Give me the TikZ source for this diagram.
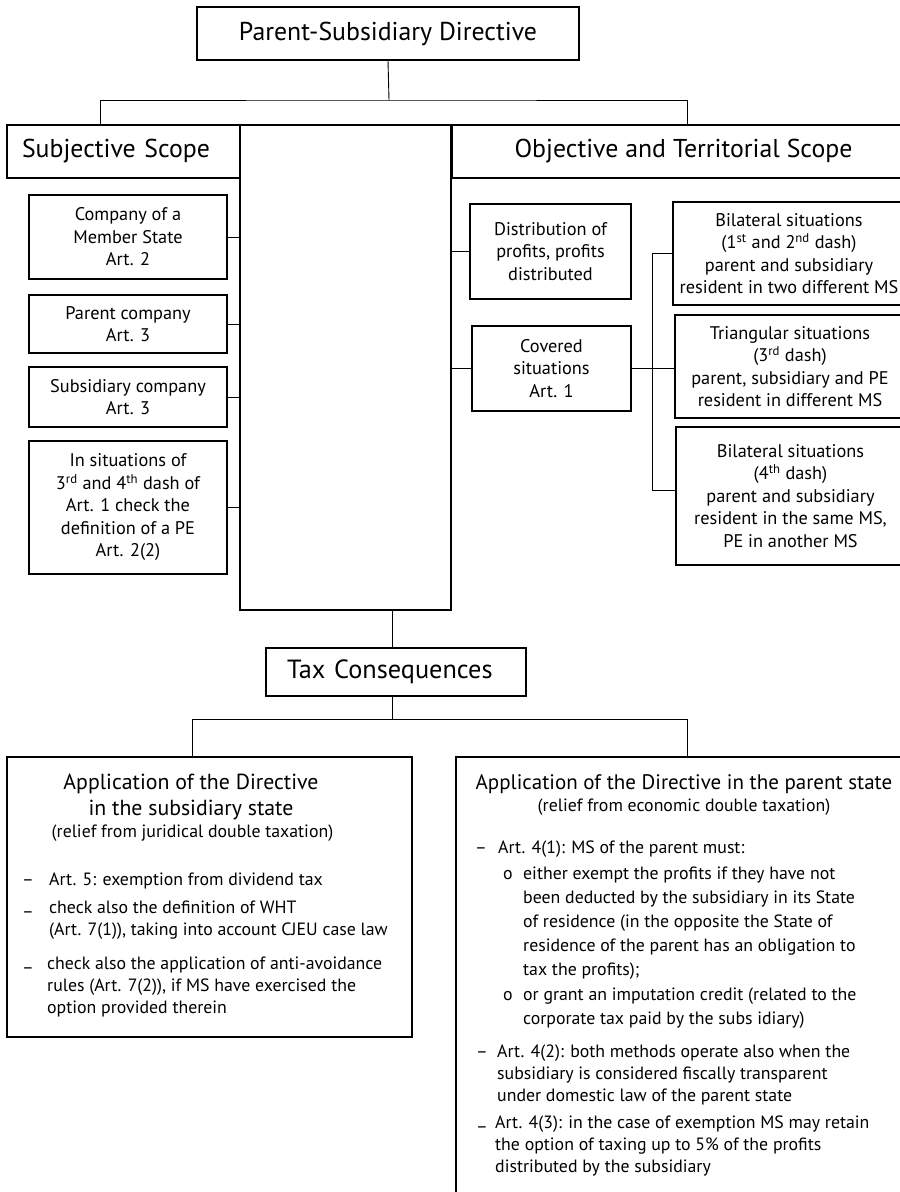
\documentclass[tikz,border=0pt]{standalone}
\usepackage{fontspec}
\setmainfont{PT Sans}
\begin{document}
\begin{tikzpicture}[x=1pt,y=-1pt,
  box/.style={draw, line width=1.1pt, inner sep=0pt, align=center},
  conn/.style={line width=0.9pt},
  bigf/.style={font=\fontsize{25.8}{30}\selectfont},
  smallf/.style={font=\fontsize{18.3}{22.5}\selectfont},
  titf/.style={font=\fontsize{21}{26}\selectfont},
  ltitf/.style={font=\fontsize{21.8}{26}\selectfont},
  subf/.style={font=\fontsize{17.8}{22}\selectfont},
  bodyf/.style={font=\fontsize{17.8}{22}\selectfont},
  olist/.style={font=\fontsize{17.8}{24}\selectfont},
  txt/.style={inner sep=0pt, align=left}]
\useasboundingbox (0,0) rectangle (900,1192);
\clip (0,0) rectangle (900,1192);

% level 1
\node[box, bigf, minimum width=382, minimum height=53] (top) at (388,33.5) {Parent-Subsidiary Directive};
\node[box, bigf, minimum width=233, minimum height=53, text width=203, align=left] (subj) at (123.5,151.5) {Subjective Scope};
\node[box, bigf, minimum width=463, minimum height=53] (obj) at (683.5,151.5) {Objective and Territorial Scope};
\node[box, minimum width=211, minimum height=485] (mid) at (345.5,367.5) {};

\coordinate (b1) at (389,100);
\coordinate (j1) at (100,125);
\coordinate (j2) at (687,125);
\draw[conn] (top.south) -- (b1);
\draw[conn] (j1) |- (b1) -| (j2);

% subjective scope items
\node[box, smallf, minimum width=198, minimum height=84] (c1) at (128,237) {Company of a\\Member State\\Art. 2};
\node[box, smallf, minimum width=198, minimum height=58] (c2) at (128,324) {Parent company\\Art. 3};
\node[box, smallf, minimum width=198, minimum height=60] (c3) at (128,397) {Subsidiary company\\Art. 3};
\node[box, smallf, minimum width=198, minimum height=133] (c4) at (128,507.5) {In situations of\\3\textsuperscript{rd} and 4\textsuperscript{th} dash of\\Art. 1 check the\\definition of a PE\\Art. 2(2)};
\draw[conn] (c1.east) -- (c1.east -| mid.west);
\draw[conn] (c2.east) -- (c2.east -| mid.west);
\draw[conn] (c3.east) -- (c3.east -| mid.west);
\draw[conn] (c4.east) -- (c4.east -| mid.west);

% objective scope items
\node[box, smallf, minimum width=161, minimum height=95] (dist) at (550.5,251.5) {Distribution of\\profits, profits\\distributed};
\node[box, smallf, minimum width=159, minimum height=85] (cov) at (551.5,368.5) {Covered\\situations\\Art. 1};
\draw[conn] (dist.west) -- (dist.west -| mid.east);
\draw[conn] (cov.west) -- (cov.west -| mid.east);

\node[box, smallf, minimum width=232, minimum height=103] (r1) at (789,253.5) {Bilateral situations\\(1\textsuperscript{st} and 2\textsuperscript{nd} dash)\\parent and subsidiary\\resident in two different MS};
\node[box, smallf, minimum width=230, minimum height=103] (r2) at (790,366.5) {Triangular situations\\(3\textsuperscript{rd} dash)\\parent, subsidiary and PE\\resident in different MS};
\node[box, smallf, minimum width=229, minimum height=138] (r3) at (790.5,496) {Bilateral situations\\(4\textsuperscript{th} dash)\\parent and subsidiary\\resident in the same MS,\\PE in another MS};
\coordinate (bb) at (652,490);
\draw[conn] (cov.east) -- (cov.east -| r2.west);
\draw[conn] (r1.west) -| (bb) -- (bb -| r3.west);

% tax consequences
\node[box, font=\fontsize{26.3}{30}\selectfont, minimum width=260, minimum height=48, text width=218, align=left] (tax) at (396,672) {Tax Consequences};
\coordinate (m1) at (392,610);
\coordinate (b2) at (392,719);
\coordinate (j3) at (192,757);
\coordinate (j4) at (687,757);
\draw[conn] (m1) -- (m1 |- tax.north);
\draw[conn] (tax.south -| m1) -- (b2);
\draw[conn] (j3) |- (b2) -| (j4);

\node[box, minimum width=405, minimum height=280] (lbox) at (209.5,897) {};
\node[box, minimum width=456, minimum height=493] (rbox) at (684,1003.5) {};

% left box text (anchor base = baseline of the last line)
\node[txt, ltitf, align=center, anchor=base] (lt) at (191,815) {Application of the Directive\\in the subsidiary state};
\node[txt, subf, anchor=base] (ls) at (192.5,837) {(relief from juridical double taxation)};
\node[txt, bodyf, anchor=base west] (ld1) at (22,885) {–};
\node[txt, bodyf, anchor=base west] (li1) at (49,885) {Art. 5: exemption from dividend tax};
\node[txt, bodyf, anchor=base west] (ld2) at (22,913) {\raisebox{-4pt}{–}};
\node[txt, bodyf, anchor=base west] (li2) at (49,935) {check also the definition of WHT\\(Art. 7(1)), taking into account CJEU case law};
\node[txt, bodyf, anchor=base west] (ld3) at (22,969) {\raisebox{-4pt}{–}};
\node[txt, bodyf, anchor=base west] (li3) at (47,1013) {check also the application of anti-avoidance\\rules (Art. 7(2)), if MS have exercised the\\option provided therein};

% right box text
\node[txt, titf, anchor=base] (rt) at (684,789) {Application of the Directive in the parent state};
\node[txt, subf, anchor=base] (rs) at (684,811) {(relief from economic double taxation)};
\node[txt, bodyf, anchor=base west] (rd1) at (475,853) {–};
\node[txt, bodyf, anchor=base west] (ri1) at (498,853) {Art. 4(1): MS of the parent must:};
\node[txt, bodyf, anchor=base west] (ro1) at (503,879) {o};
\node[txt, olist, anchor=base west] (rp1) at (523,975) {either exempt the profits if they have not\\been deducted by the subsidiary in its State\\of residence (in the opposite the State of\\residence of the parent has an obligation to\\tax the profits);};
\node[txt, bodyf, anchor=base west] (ro2) at (503,1000) {o};
\node[txt, olist, anchor=base west] (rp2) at (523,1024) {or grant an imputation credit (related to the\\corporate tax paid by the subs idiary)};
\node[txt, bodyf, anchor=base west] (rd2) at (476,1057) {–};
\node[txt, bodyf, anchor=base west] (ri2) at (497,1101) {Art. 4(2): both methods operate also when the\\subsidiary is considered fiscally transparent\\under domestic law of the parent state};
\node[txt, bodyf, anchor=base west] (rd3) at (476,1128) {\raisebox{-4pt}{–}};
\node[txt, bodyf, anchor=base west] (ri3) at (495,1172) {Art. 4(3): in the case of exemption MS may retain\\the option of taxing up to 5\% of the profits\\distributed by the subsidiary};
\end{tikzpicture}
\end{document}
